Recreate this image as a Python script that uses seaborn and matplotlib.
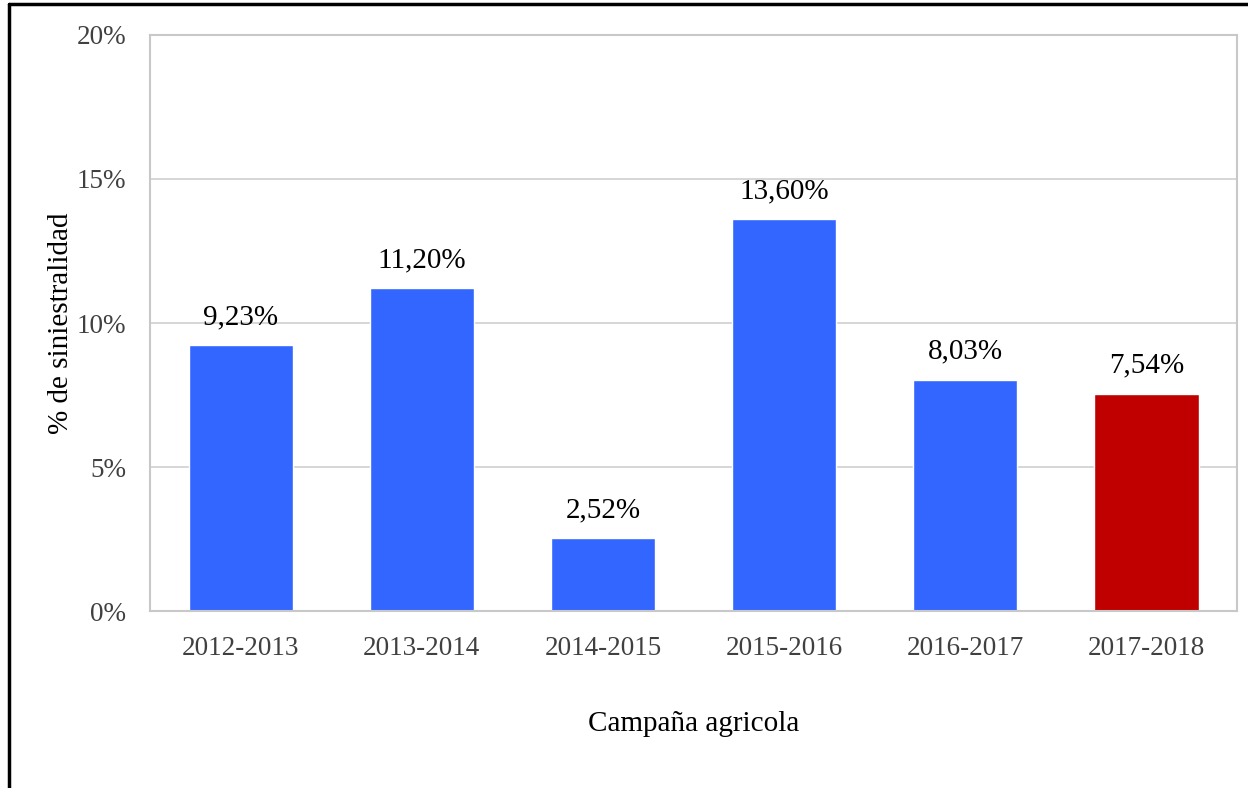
import pandas as pd
import matplotlib.pyplot as plt
import matplotlib.ticker as mticker
from matplotlib.lines import Line2D
import seaborn as sns

# Data
campaigns = ['2012-2013', '2013-2014', '2014-2015', '2015-2016', '2016-2017', '2017-2018']
loss_rates = [9.23, 11.20, 2.52, 13.60, 8.03, 7.54]
bar_colors = ['#3366FF', '#3366FF', '#3366FF', '#3366FF', '#3366FF', '#C00000']

df = pd.DataFrame({'Campaña': campaigns, 'Siniestralidad': loss_rates})

sns.set_style('white')
plt.rcParams['font.family'] = ['Liberation Serif', 'DejaVu Serif']
text_color = '#404040'

fig = plt.figure(figsize=(12.48, 7.88), dpi=100)
ax = fig.add_axes([0.1202, 0.2246, 0.871, 0.731])

sns.barplot(data=df, x='Campaña', y='Siniestralidad', hue='Campaña',
            palette=bar_colors, legend=False, width=0.575, saturation=1, ax=ax)

ax.set_ylim(0, 20)
ax.set_yticks([0, 5, 10, 15, 20])
ax.yaxis.set_major_formatter(mticker.FuncFormatter(lambda v, p: f'{v:.0f}%'))
ax.grid(axis='y', color='#d0d0d0', linewidth=1.2)
ax.set_axisbelow(True)
for s in ax.spines.values():
    s.set_color('#c8c8c8')
    s.set_linewidth(1.5)

ax.tick_params(axis='both', length=0, labelsize=19.5, colors=text_color)
ax.tick_params(axis='x', pad=18)
ax.tick_params(axis='y', pad=17)

# value labels with decimal comma
for i, v in enumerate(loss_rates):
    ax.annotate(f'{v:.2f}%'.replace('.', ','), (i, v), xytext=(0, 11),
                textcoords='offset points', ha='center', va='bottom',
                fontsize=21, color='black')

ax.set_xlabel('Campaña agricola', fontsize=21, color='black', labelpad=36)
ax.set_ylabel('% de siniestralidad', fontsize=21, color='black', labelpad=2)

# outer black frame (left and top visible)
fig.add_artist(Line2D([0.0075, 0.0075], [0, 0.9945], transform=fig.transFigure,
                      color='black', linewidth=2.5))
fig.add_artist(Line2D([0.0075, 1.0], [0.9945, 0.9945], transform=fig.transFigure,
                      color='black', linewidth=2.5))

fig.savefig('out.png', dpi=100, facecolor='white')
